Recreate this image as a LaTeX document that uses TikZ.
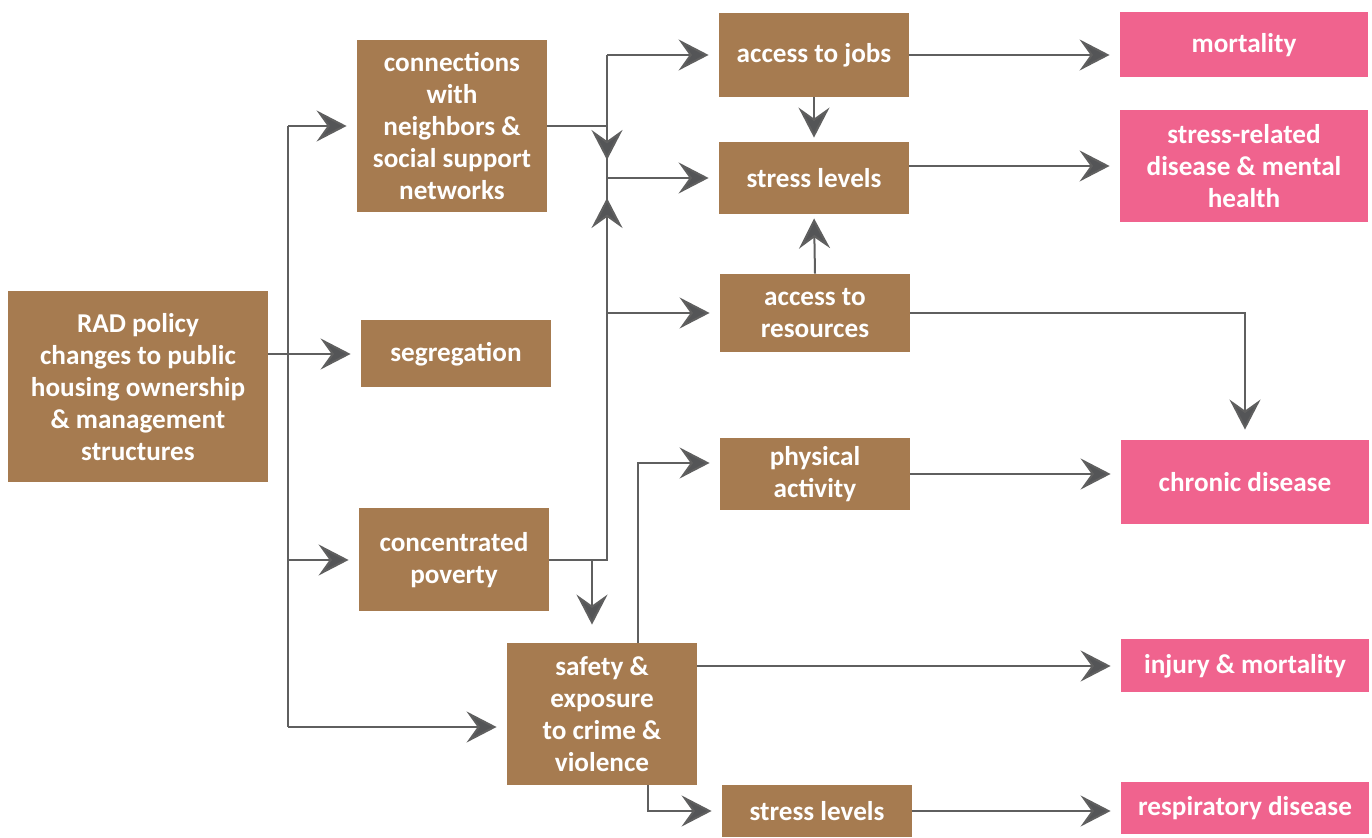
\documentclass[tikz,border=0pt]{standalone}
\usepackage{fontspec}
\setmainfont{Carlito}
\usetikzlibrary{arrows.meta,positioning}
\definecolor{brownbox}{HTML}{A67B50}
\definecolor{pinkbox}{HTML}{F0638E}
\definecolor{linegray}{HTML}{5F5F5F}
\definecolor{tipgray}{HTML}{545557}

\begin{document}
\begin{tikzpicture}[x=0.5pt, y=-0.5pt,
  box/.style = {fill=brownbox, text=white, align=center, inner sep=0pt,
    font=\fontsize{13.6}{16}\selectfont\bfseries, minimum width=95pt},
  outcome/.style = {box, fill=pinkbox, minimum width=124pt},
  line/.style = {draw=linegray, line width=1pt},
  arr/.style = {line, -{Stealth[length=15pt, width=15.5pt, inset=5.5pt, fill=tipgray]}, shorten >=5pt}]
\useasboundingbox (0,0) rectangle (1372,838);

% boxes
\node[box, minimum width=130pt, minimum height=95.5pt] (rad) at (138,387)
  {RAD policy\\changes to public\\housing ownership\\\& management\\structures};
\node[box, minimum height=86pt] (conn) at (452,126)
  {connections\\with\\neighbors \&\\social support\\networks};
\node[box, minimum height=33.5pt] (seg) at (456,354) {segregation};
\node[box, minimum height=51.5pt] (pov) at (454,560) {concentrated\\poverty};
\node[box, minimum height=71pt] (safe) at (602,714) {safety \&\\exposure\\to crime \&\\violence};
\node[box, minimum height=42pt] (jobs) at (814,55) {access to jobs};
\node[box, minimum height=36pt] (stressA) at (814,178) {stress levels};
\node[box, minimum height=39pt] (res) at (815,313) {access to\\resources};
\node[box, minimum height=36pt] (phys) at (815,474) {physical\\activity};
\node[box, minimum height=26pt] (stressB) at (817,811) {stress levels};

\node[outcome, minimum height=32.5pt] (mort) at (1244,45) {mortality};
\node[outcome, minimum height=56pt] (strel) at (1244,166)
  {stress-related\\disease \& mental\\health};
\node[outcome, minimum height=42pt] (chron) at (1245,482) {chronic disease};
\node[outcome, minimum height=26.5pt] (inj) at (1245,666) {injury \& mortality};
\node[outcome, minimum height=26pt] (resp) at (1245,808) {respiratory disease};

% junctions
\coordinate (t1) at (288,123);
\coordinate (t2) at (288,727);
\coordinate (jt) at (607,55);
\coordinate (jd) at (607,170);
\coordinate (jm) at (607,178);
\coordinate (ju) at (607,188);
\coordinate (jr) at (607,313);
\coordinate (jp) at (607,560);
\coordinate (jq) at (592,560);
\coordinate (js) at (638,463);
\coordinate (jb) at (648,806);

% left trunk
\draw[line] (t1 |- conn.west) -- (t2);
\draw[arr] (t1 |- conn.west) -- (conn.west);
\draw[arr] (rad.east |- seg.west) -- (seg.west);
\draw[arr] (t1 |- pov.west) -- (pov.west);
\draw[arr] (t2) -- (t2 -| safe.west);

% middle column
\draw[line] (jt) -- (jp);
\draw[arr] (conn.east) -| (jd);
\draw[arr] (pov.east) -| (ju);
\draw[arr] (jt) -- (jobs.west);
\draw[arr] (jm) -- (stressA.west);
\draw[arr] (jr) -- (res.west);
\draw[arr, shorten >=9pt] (jq) -- (jq |- safe.north);
\draw[arr] (safe.north -| js) -- (js) -- (js -| phys.west);
\draw[arr] (safe.south -| jb) |- (stressB.west);
\draw[arr, shorten >=2pt] (jobs.south) -- (stressA.north);
\draw[arr, shorten >=2pt] (res.north) -- (stressA.south);

% outcomes
\draw[arr] (jobs.east) -- (jobs.east -| mort.west);
\draw[arr] (strel.west -| stressA.east) -- (strel.west);
\draw[arr] (res.east) -| (chron.north);
\draw[arr] (phys.east) -- (phys.east -| chron.west);
\draw[arr] (inj.west -| safe.east) -- (inj.west);
\draw[arr] (stressB.east) -- (stressB.east -| resp.west);
\end{tikzpicture}
\end{document}
